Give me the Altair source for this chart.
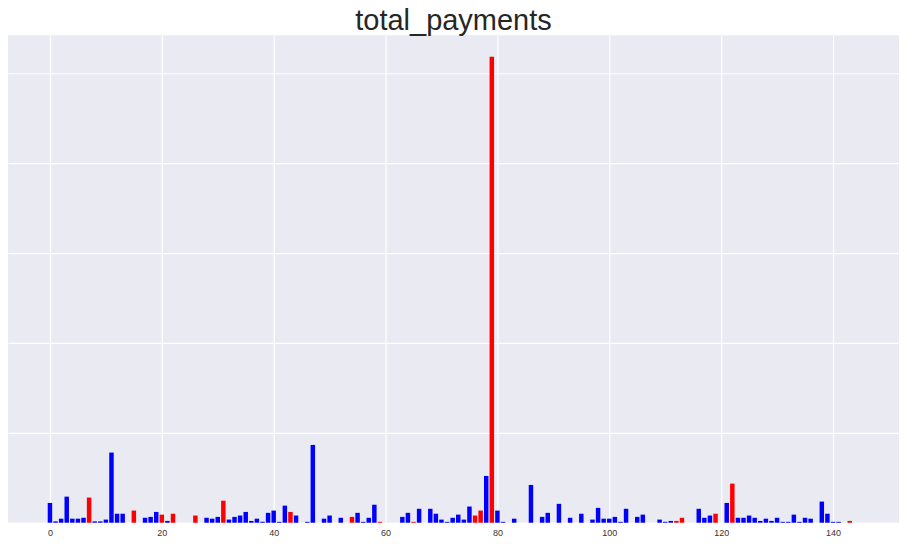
import pandas as pd
import altair as alt

# bar heights, in millions of dollars
payments = [
    4.4, 0.3, 0.9, 5.8, 0.9, 0.9, 1.1, 5.6, 0.3, 0.3,
    0.7, 15.6, 2.0, 2.0, 0, 2.7, 0, 1.1, 1.3, 2.4,
    1.8, 0.4, 2.0, 0, 0, 0, 1.6, 0, 1.1, 0.9,
    1.3, 4.9, 0.7, 1.3, 1.6, 2.4, 0.4, 0.9, 0.2, 2.2,
    2.7, 0.2, 3.8, 2.4, 1.6, 0, 0.2, 17.3, 0, 0.9,
    1.6, 0, 1.1, 0, 1.3, 2.2, 0.2, 1.1, 4.0, 0.2,
    0, 0, 0, 1.3, 2.2, 0.2, 3.1, 0, 3.1, 2.0,
    0.7, 0.2, 1.1, 1.8, 0.7, 3.6, 1.6, 2.7, 10.4, 103.6,
    2.7, 0.2, 0, 0.9, 0, 0, 8.4, 0, 1.3, 2.2,
    0, 4.2, 0, 1.1, 0, 2.0, 0, 0.7, 3.3, 0.9,
    0.9, 1.3, 0.2, 3.1, 0, 1.3, 1.8, 0, 0, 0.7,
    0.2, 0.4, 0.4, 1.1, 0, 0, 3.1, 1.1, 1.6, 2.0,
    0, 4.4, 8.7, 1.1, 1.1, 1.6, 1.1, 0.4, 0.9, 0.4,
    1.1, 0.2, 0.2, 1.8, 0.2, 1.1, 0.9, 0, 4.7, 2.0,
    0.2, 0.2, 0, 0.4, 0, 0,
]
poi = [7, 15, 20, 22, 26, 31, 43, 54, 59, 65, 76, 77, 79, 112, 113, 119, 122, 143]

df = pd.DataFrame({'idx': range(len(payments)), 'value': [p * 1e6 for p in payments]})
df['poi'] = df['idx'].isin(poi)

chart = alt.Chart(df).transform_calculate(
    x0='datum.idx - 0.4', x1='datum.idx + 0.4'
).mark_bar().encode(
    alt.X('x0:Q', title=None, scale=alt.Scale(domain=[-7.5, 151.8], nice=False, zero=False),
          axis=alt.Axis(values=list(range(0, 150, 20)), labelFontSize=9, labelColor='#333333',
                        ticks=False, domain=False, gridColor='white', gridWidth=1.2, labelPadding=6)),
    x2='x1:Q',
    y=alt.Y('value:Q', title=None, scale=alt.Scale(domain=[0, 108.4e6], nice=False),
            axis=alt.Axis(values=[i * 2e7 for i in range(6)], labels=False, ticks=False,
                          domain=False, gridColor='white', gridWidth=1.2)),
    y2=alt.datum(0),
    color=alt.Color('poi:N', scale=alt.Scale(domain=[False, True], range=['blue', 'red']), legend=None),
).properties(
    width=892, height=488,
    title=alt.Title('total_payments', fontSize=29, fontWeight='normal', color='#262626',
                    font='Liberation Sans', offset=-1),
    autosize='none', padding={'left': 0, 'top': 27, 'right': 0, 'bottom': 25},
).configure_view(fill='#EAEAF2', stroke=None)

chart.save("out.html", embed_options={"renderer": "svg", "actions": False})
